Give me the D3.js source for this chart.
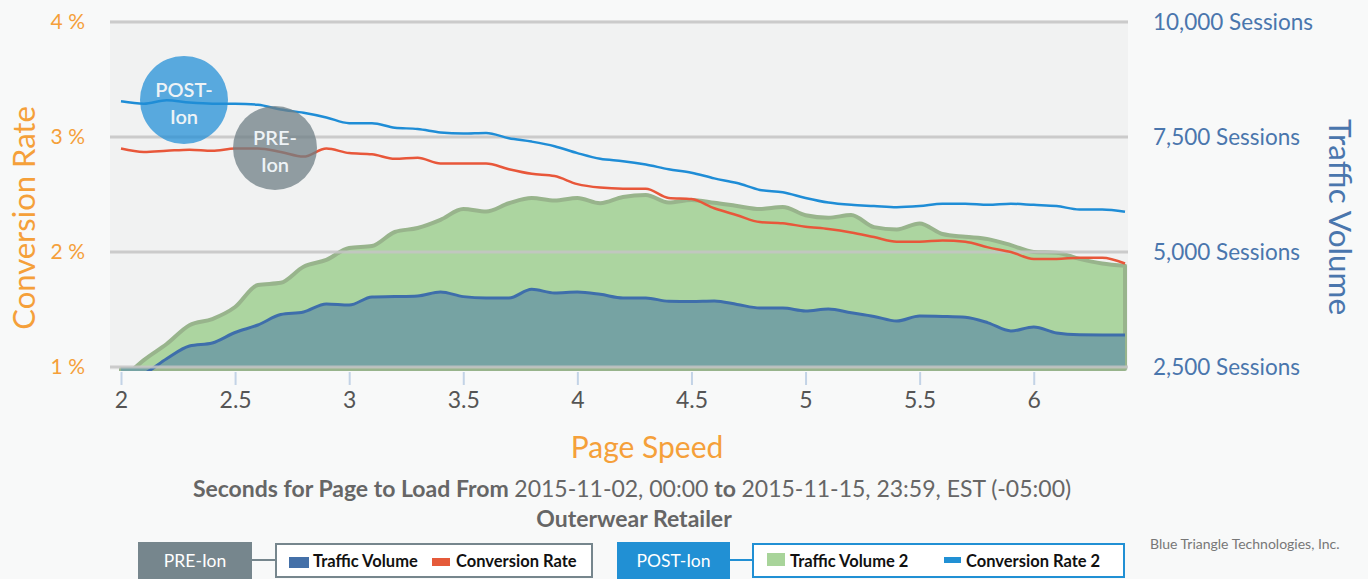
<!DOCTYPE html>
<html>
<head>
<meta charset="utf-8">
<script src="https://cdnjs.cloudflare.com/ajax/libs/d3/7.8.5/d3.min.js"></script>
<style>
  body { margin: 0; background: #f8f9f9; font-family: Lato, 'Open Sans', sans-serif; }
</style>
</head>
<body>
<div id="chart"></div>
<script>
// page speed (seconds) buckets
var speeds = [2.0, 2.1, 2.2, 2.3, 2.4, 2.5, 2.6, 2.7, 2.8, 2.9,
  3.0, 3.1, 3.2, 3.3, 3.4, 3.5, 3.6, 3.7, 3.8, 3.9,
  4.0, 4.1, 4.2, 4.3, 4.4, 4.5, 4.6, 4.7, 4.8, 4.9,
  5.0, 5.1, 5.2, 5.3, 5.4, 5.5, 5.6, 5.7, 5.8, 5.9,
  6.0, 6.1, 6.2, 6.3, 6.4]

// PRE-Ion
var conversionRate = [2.90, 2.87, 2.88, 2.89, 2.88, 2.90, 2.90, 2.87, 2.83, 2.90,
  2.86, 2.85, 2.81, 2.82, 2.77, 2.77, 2.77, 2.72, 2.68, 2.66,
  2.59, 2.56, 2.55, 2.55, 2.47, 2.46, 2.38, 2.32, 2.26, 2.25,
  2.22, 2.20, 2.17, 2.13, 2.09, 2.09, 2.10, 2.09, 2.04, 2.00,
  1.94, 1.94, 1.95, 1.95, 1.90]
var trafficVolume = [2200, 2350, 2680, 2955, 3022, 3250, 3413, 3640, 3696, 3870,
  3848, 4022, 4030, 4043, 4130, 4030, 4000, 4000, 4190, 4109,
  4130, 4080, 4000, 4000, 3930, 3925, 3935, 3860, 3783, 3783,
  3720, 3761, 3680, 3600, 3500, 3609, 3600, 3580, 3460, 3283,
  3370, 3240, 3200, 3196, 3196]

// POST-Ion
var conversionRate2 = [3.31, 3.29, 3.32, 3.30, 3.29, 3.29, 3.28, 3.24, 3.21, 3.17,
  3.12, 3.12, 3.08, 3.07, 3.04, 3.03, 3.035, 2.99, 2.96, 2.92,
  2.86, 2.81, 2.79, 2.76, 2.72, 2.69, 2.64, 2.60, 2.54, 2.52,
  2.47, 2.43, 2.41, 2.40, 2.39, 2.40, 2.42, 2.42, 2.41, 2.42,
  2.41, 2.40, 2.37, 2.37, 2.35]
var trafficVolume2 = [2200, 2650, 3000, 3410, 3543, 3804, 4283, 4330, 4680, 4830,
  5087, 5130, 5435, 5522, 5700, 5935, 5880, 6060, 6174, 6120,
  6174, 6060, 6196, 6239, 6075, 6130, 6070, 6000, 5935, 5978,
  5800, 5745, 5804, 5540, 5490, 5620, 5390, 5330, 5280, 5150,
  5000, 4985, 4850, 4750, 4700]

var rateTicks = [1, 2, 3, 4]
var sessionTicks = [2500, 5000, 7500, 10000]
var speedTicks = [2, 2.5, 3, 3.5, 4, 4.5, 5, 5.5, 6]

var width = 1368
var height = 579
var plot = { left: 110, right: 1128, top: 20, bottom: 370 }

var orange = '#f5a03a'
var steel = '#4a76ad'

var svg = d3
  .select('#chart')
  .append('svg')
  .attr('width', width)
  .attr('height', height)
  .style('display', 'block')

svg.append('rect')
  .attr('width', width)
  .attr('height', height)
  .attr('fill', '#f8f9f9')

var xScale = d3.scaleLinear().domain([2, 6.4]).range([121, 1125])
var rateScale = d3.scaleLinear().domain([1, 4]).range([367, 22])
var sessionScale = d3.scaleLinear().domain([2500, 10000]).range([367, 22])

var rows = speeds.map(function(s, i) {
  return {
    speed: s,
    rate: conversionRate[i],
    rate2: conversionRate2[i],
    volume: trafficVolume[i],
    volume2: trafficVolume2[i]
  }
})

svg.append('defs')
  .append('clipPath')
  .attr('id', 'plot-clip')
  .append('rect')
  .attr('x', plot.left)
  .attr('y', plot.top)
  .attr('width', plot.right - plot.left)
  .attr('height', plot.bottom - plot.top + 1)

svg.append('rect')
  .attr('x', plot.left)
  .attr('y', plot.top)
  .attr('width', plot.right - plot.left)
  .attr('height', plot.bottom - plot.top)
  .attr('fill', '#f1f2f2')

var chart = svg.append('g').attr('clip-path', 'url(#plot-clip)')

var area2 = d3.area()
  .x(d => xScale(d.speed))
  .y0(sessionScale(2500) + 2)
  .y1(d => sessionScale(d.volume2))
  .curve(d3.curveMonotoneX)

var area1 = d3.area()
  .x(d => xScale(d.speed))
  .y0(sessionScale(2500))
  .y1(d => sessionScale(d.volume))
  .curve(d3.curveMonotoneX)

chart.append('path')
  .datum(rows)
  .attr('d', area2)
  .attr('fill', '#acd5a0')
  .attr('stroke', '#98b48c')
  .attr('stroke-width', 4)
  .attr('stroke-linejoin', 'round')

chart.append('path')
  .datum(rows)
  .attr('d', area1)
  .attr('fill', '#76a3a3')

chart.append('path')
  .datum(rows)
  .attr('d', d3.line().x(d => xScale(d.speed)).y(d => sessionScale(d.volume)).curve(d3.curveMonotoneX))
  .attr('fill', 'none')
  .attr('stroke', '#3e6eab')
  .attr('stroke-width', 3)

// gridlines sit over the areas
svg.selectAll('.grid')
  .data(rateTicks)
  .enter()
  .append('line')
  .attr('class', 'grid')
  .attr('x1', plot.left)
  .attr('x2', plot.right)
  .attr('y1', d => rateScale(d))
  .attr('y2', d => rateScale(d))
  .attr('stroke', '#c4c4c4')
  .attr('stroke-opacity', 0.85)
  .attr('stroke-width', 3)

var lines = svg.append('g').attr('clip-path', 'url(#plot-clip)')

lines.append('path')
  .datum(rows)
  .attr('d', d3.line().x(d => xScale(d.speed)).y(d => rateScale(d.rate2)).curve(d3.curveMonotoneX))
  .attr('fill', 'none')
  .attr('stroke', '#1f8dd6')
  .attr('stroke-width', 2.5)

lines.append('path')
  .datum(rows)
  .attr('d', d3.line().x(d => xScale(d.speed)).y(d => rateScale(d.rate)).curve(d3.curveMonotoneX))
  .attr('fill', 'none')
  .attr('stroke', '#e8573a')
  .attr('stroke-width', 2.5)

// left axis
var leftAxis = svg.append('g')
  .attr('transform', 'translate(' + plot.left + ',0)')
  .call(d3.axisLeft(rateScale).tickValues(rateTicks).tickSize(0).tickPadding(25).tickFormat(d => d + ' %'))
leftAxis.select('.domain').remove()
leftAxis.selectAll('text')
  .attr('fill', orange)
  .attr('font-size', 21)
  .attr('font-family', 'Lato')

// right axis
var rightAxis = svg.append('g')
  .attr('transform', 'translate(' + plot.right + ',0)')
  .call(d3.axisRight(sessionScale).tickValues(sessionTicks).tickSize(0).tickPadding(25).tickFormat(d => d3.format(',')(d) + ' Sessions'))
rightAxis.select('.domain').remove()
rightAxis.selectAll('text')
  .attr('fill', steel)
  .attr('font-size', 22.5)
  .attr('font-family', 'Lato')

// bottom axis
var bottomAxis = svg.append('g')
  .attr('transform', 'translate(0,372)')
  .call(d3.axisBottom(xScale).tickValues(speedTicks).tickSize(13).tickPadding(7).tickFormat(d3.format('')))
bottomAxis.select('.domain').remove()
bottomAxis.selectAll('line')
  .attr('stroke', '#c3d3e6')
  .attr('stroke-width', 2)
bottomAxis.selectAll('text')
  .attr('fill', '#555')
  .attr('font-size', 23)
  .attr('font-family', 'Lato')

svg.append('text')
  .attr('transform', 'translate(35,218) rotate(-90)')
  .attr('text-anchor', 'middle')
  .attr('fill', orange)
  .attr('font-size', 31)
  .text('Conversion Rate')

svg.append('text')
  .attr('transform', 'translate(1329,217) rotate(90)')
  .attr('text-anchor', 'middle')
  .attr('fill', steel)
  .attr('font-size', 31.5)
  .text('Traffic Volume')

svg.append('text')
  .attr('x', 647)
  .attr('y', 458)
  .attr('text-anchor', 'middle')
  .attr('fill', orange)
  .attr('font-size', 30)
  .text('Page Speed')

var sub = svg.append('text')
  .attr('x', 632)
  .attr('y', 497)
  .attr('text-anchor', 'middle')
  .attr('fill', '#666')
  .attr('font-size', 23)
sub.append('tspan').attr('font-weight', 700).text('Seconds for Page to Load From ')
sub.append('tspan').text('2015-11-02, 00:00 ')
sub.append('tspan').attr('font-weight', 700).text('to ')
sub.append('tspan').text('2015-11-15, 23:59, EST (-05:00)')

svg.append('text')
  .attr('x', 634)
  .attr('y', 527)
  .attr('text-anchor', 'middle')
  .attr('fill', '#666')
  .attr('font-size', 23)
  .attr('font-weight', 700)
  .text('Outerwear Retailer')

// bubbles
var bubbles = [
  { name: 'POST-', cx: 184, cy: 100, r: 44, color: '#1f8dd6', opacity: 0.73 },
  { name: 'PRE-', cx: 275, cy: 148, r: 42, color: '#6f7f86', opacity: 0.75 }
]

bubbles.forEach(function(b) {
  svg.append('circle')
    .attr('cx', b.cx)
    .attr('cy', b.cy)
    .attr('r', b.r)
    .attr('fill', b.color)
    .attr('fill-opacity', b.opacity)
  var t = svg.append('text')
    .attr('text-anchor', 'middle')
    .attr('fill', '#eef3f6')
    .attr('font-size', 20)
    .attr('font-weight', 600)
  t.append('tspan').attr('x', b.cx).attr('y', b.cy - 3).text(b.name)
  t.append('tspan').attr('x', b.cx).attr('y', b.cy + 24).text('Ion')
})

// legends
var legends = [
  {
    tag: 'PRE-Ion', color: '#76868d', tagX: 138, tagW: 114, boxX: 276, boxW: 316,
    items: [
      { label: 'Traffic Volume', color: '#4470a8', x: 289, y: 557, w: 20, h: 11, tx: 313 },
      { label: 'Conversion Rate', color: '#e55a3a', x: 432, y: 558, w: 18, h: 8, tx: 456 }
    ]
  },
  {
    tag: 'POST-Ion', color: '#2190d4', tagX: 617, tagW: 113, boxX: 753, boxW: 371,
    items: [
      { label: 'Traffic Volume 2', color: '#a8d49a', x: 767, y: 553, w: 18, h: 13, tx: 790 },
      { label: 'Conversion Rate 2', color: '#2190d4', x: 944, y: 557, w: 17, h: 6, tx: 966 }
    ]
  }
]

legends.forEach(function(l) {
  svg.append('rect')
    .attr('x', l.tagX)
    .attr('y', 542)
    .attr('width', l.tagW)
    .attr('height', 37)
    .attr('fill', l.color)
  svg.append('text')
    .attr('x', l.tagX + l.tagW / 2)
    .attr('y', 567)
    .attr('text-anchor', 'middle')
    .attr('fill', '#fff')
    .attr('font-size', 17.5)
    .text(l.tag)
  svg.append('line')
    .attr('x1', l.tagX + l.tagW)
    .attr('x2', l.boxX)
    .attr('y1', 560)
    .attr('y2', 560)
    .attr('stroke', l.color)
    .attr('stroke-width', 2)
  svg.append('rect')
    .attr('x', l.boxX)
    .attr('y', 544)
    .attr('width', l.boxW)
    .attr('height', 33)
    .attr('fill', '#fff')
    .attr('stroke', l.color)
    .attr('stroke-width', 2)
  l.items.forEach(function(it) {
    svg.append('rect')
      .attr('x', it.x)
      .attr('y', it.y)
      .attr('width', it.w)
      .attr('height', it.h)
      .attr('fill', it.color)
    svg.append('text')
      .attr('x', it.tx)
      .attr('y', 567)
      .attr('fill', '#111')
      .attr('font-size', 16.5)
      .attr('font-weight', 700)
      .text(it.label)
  })
})

svg.append('text')
  .attr('x', 1150)
  .attr('y', 549)
  .attr('fill', '#777')
  .attr('font-size', 14)
  .text('Blue Triangle Technologies, Inc.')
</script>
</body>
</html>
